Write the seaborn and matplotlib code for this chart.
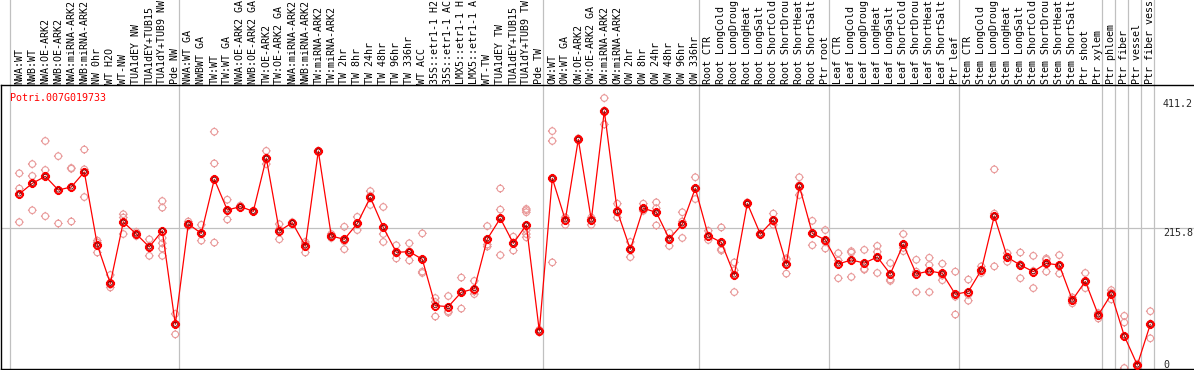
import numpy as np
import pandas as pd
import matplotlib
matplotlib.use("Agg")
import matplotlib.pyplot as plt
import matplotlib.transforms as mtransforms
from matplotlib.path import Path
import seaborn as sns

# sample names, one per column (as printed, truncated to 14 chars)
group_nw = ["NWA:WT", "NWB:WT", "NWA:OE-ARK2", "NWB:OE-ARK2", "NWA:miRNA-ARK2",
            "NWB:miRNA-ARK2", "NW 0hr", "WT H2O", "WT-NW", "TUA1dEY NW",
            "TUA1dEY+TUB15", "TUA1dY+TUB9 NW", "Pde NW"]
group_tw = ["NWA:WT GA", "NWBWT GA", "TW:WT", "TW:WT GA", "NWA:OE-ARK2 GA",
            "NWB:OE-ARK2 GA", "TW:OE-ARK2", "TW:OE-ARK2 GA", "NWA:miRNA-ARK2",
            "NWB:miRNA-ARK2", "TW:miRNA-ARK2", "TW:miRNA-ARK2", "TW 2hr", "TW 8hr",
            "TW 24hr", "TW 48hr", "TW 96hr", "TW 336hr", "WT ACC", "35S::etr1-1 H2",
            "35S::etr1-1 AC", "LMX5::etr1-1 H", "LMX5::etr1-1 A", "WT-TW",
            "TUA1dEY TW", "TUA1dEY+TUB15", "TUA1dY+TUB9 TW", "Pde TW"]
group_ow = ["OW:WT", "OW:WT GA", "OW:OE-ARK2", "OW:OE-ARK2 GA", "OW:miRNA-ARK2",
            "OW:miRNA-ARK2", "OW 2hr", "OW 8hr", "OW 24hr", "OW 48hr", "OW 96hr",
            "OW 336hr"]
group_root = ["Root CTR", "Root LongCold", "Root LongDroug", "Root LongHeat",
              "Root LongSalt", "Root ShortCold", "Root ShortDrou", "Root ShortHeat",
              "Root ShortSalt", "Ptr root"]
group_leaf = ["Leaf CTR", "Leaf LongCold", "Leaf LongDroug", "Leaf LongHeat",
              "Leaf LongSalt", "Leaf ShortCold", "Leaf ShortDrou", "Leaf ShortHeat",
              "Leaf ShortSalt", "Ptr leaf"]
group_stem = ["Stem CTR", "Stem LongCold", "Stem LongDroug", "Stem LongHeat",
              "Stem LongSalt", "Stem ShortCold", "Stem ShortDrou", "Stem ShortHeat",
              "Stem ShortSalt", "Ptr shoot", "Ptr xylem"]
group_ptr = ["Ptr phloem", "Ptr fiber", "Ptr vessel", "Ptr fiber vess"]

groups = [group_nw, group_tw, group_ow, group_root, group_leaf, group_stem,
          group_ptr[0:1], group_ptr[1:2], group_ptr[2:3], group_ptr[3:4]]
labels = [name for g in groups for name in g]

# mean expression per sample (line)
means = [266.7, 282.8, 293.4, 272.7, 277.3, 300.0, 189.4, 131.3, 224.2, 206.0,
         186.4, 211.0, 69.2,
         221.2, 207.0, 288.9, 242.4, 247.5, 240.4, 321.0, 210.6, 223.2, 187.9,
         331.8, 203.0, 198.0, 222.0, 261.6, 216.0, 178.3, 179.3, 167.7, 97.5,
         96.0, 117.7, 123.2, 198.5, 229.8, 191.9, 219.7, 59.0,
         290.4, 227.3, 349.5, 227.3, 392.4, 240.4, 182.8, 245.0, 238.9, 198.5,
         221.2, 275.3,
         203.5, 193.4, 143.9, 252.5, 206.0, 227.3, 160.6, 278.8, 207.0, 197.0,
         160.6, 166.7, 162.0, 171.2, 145.5, 190.4, 145.5, 150.0, 146.5, 114.7,
         118.7, 151.5, 233.3, 170.7, 159.0, 149.0, 161.6, 159.0, 106.0, 134.3,
         83.3,
         115.0, 51.5, 7.6, 69.2]

# individual replicates per sample
replicates = [
    [298, 275, 224], [312, 294, 242], [347, 303, 233], [324, 272, 222],
    [306, 305, 225], [334, 304, 262], [193, 196, 178], [144, 129, 125],
    [236, 231, 206], [209, 206, 203], [198, 188, 173],
    [256, 246, 200, 192, 184, 173], [85, 69, 54],
    [225, 221, 218], [220, 206, 196], [361, 313, 193], [258, 242, 228],
    [249, 246, 247], [241, 240, 240], [332, 319, 312], [221, 213, 198],
    [224, 223, 221], [194, 191, 178], [332, 331, 332], [206, 200, 203],
    [217, 195, 183], [232, 222, 212], [271, 264, 250], [247, 206, 194],
    [189, 177, 169], [192, 180, 166], [207, 149, 147], [109, 103, 81],
    [112, 89, 87], [140, 119, 93], [135, 119, 115], [218, 190, 187],
    [275, 243, 174], [202, 193, 181], [244, 242, 239, 212, 206, 201],
    [61, 59, 57],
    [362, 347, 163], [231, 231, 220], [351, 349, 348], [231, 228, 220],
    [412, 393, 372], [252, 239, 231], [194, 183, 171], [252, 242, 241],
    [254, 245, 219], [208, 199, 188], [239, 225, 200], [292, 275, 259],
    [211, 203, 197], [216, 181, 183], [163, 151, 118], [254, 252, 251],
    [207, 206, 205], [237, 225, 220], [169, 167, 146], [292, 280, 265],
    [226, 206, 189], [212, 194, 184],
    [177, 166, 139], [178, 180, 141], [182, 153, 152], [188, 179, 147],
    [162, 137, 135], [206, 185, 180], [167, 149, 118], [170, 159, 118],
    [161, 143, 136], [149, 111, 84],
    [137, 114, 105], [157, 151, 147], [304, 237, 157], [177, 171, 164],
    [178, 160, 139], [173, 150, 124], [169, 167, 149], [174, 157, 146],
    [110, 107, 101], [147, 133, 124], [86, 86, 78],
    [121, 117, 107], [82, 72, 3], [9, 6, 8], [89, 70, 48],
]

gene = "Potri.007G019733"
y_marks = [411.2, 215.8, 0]

# long-form table for seaborn
rep_df = pd.DataFrame(
    [(i, v) for i, reps in enumerate(replicates) for v in reps],
    columns=["pos", "value"])
mean_df = pd.DataFrame({"pos": np.arange(len(means)), "value": means})

# circle marker with four little ticks, like the original bitmap
tick_verts = [(0, 1), (0, 1.35), (0, -1), (0, -1.35),
              (1, 0), (1.35, 0), (-1, 0), (-1.35, 0)]
tick_codes = [Path.MOVETO, Path.LINETO] * 4
ring = Path.make_compound_path(Path.unit_circle(), Path(tick_verts, tick_codes))

sns.set_style("white")
plt.rcParams["font.family"] = ["DejaVu Sans Mono"]

fig = plt.figure(figsize=(11.94, 3.70), dpi=100)
ax = fig.add_axes([1 / 1194, 1 / 370, 1193 / 1194, 284 / 370])

grid_col = "#c0c0c0"
pink = "#e99a9a"
red = "#ff0000"

# group separators run all the way up through the label area
starts = np.cumsum([0] + [len(g) for g in groups])
for s in starts:
    ax.axvline(s - 0.715, ymin=0, ymax=1.31, color=grid_col, lw=0.9,
               clip_on=False, zorder=1)
ax.axhline(215.8, color=grid_col, lw=0.9, zorder=1)

sns.scatterplot(data=rep_df, x="pos", y="value", marker=ring, s=40,
                facecolor="none", edgecolor=pink, linewidth=0.8,
                ax=ax, zorder=2, legend=False)
sns.lineplot(data=mean_df, x="pos", y="value", color=red, lw=0.9,
             marker=ring, markersize=6.6, markerfacecolor="none",
             markeredgecolor=red, markeredgewidth=1.4, ax=ax, zorder=3)
# dark inner ring of the mean markers
sns.scatterplot(data=mean_df, x="pos", y="value", marker="o", s=9,
                facecolor="none", edgecolor="#700000", linewidth=0.6,
                ax=ax, zorder=4, legend=False)

ax.set_xlim(-1.408, 90.36)
ax.set_ylim(1.5, 431.8)
ax.set_xticks([])
ax.set_yticks([])
ax.set_xlabel("")
ax.set_ylabel("")
for side in ["left", "top", "bottom"]:
    ax.spines[side].set_color("black")
    ax.spines[side].set_linewidth(1.0)
ax.spines["right"].set_visible(False)

# rotated column labels above the frame
trans = mtransforms.blended_transform_factory(ax.transData, ax.transAxes)
for i, name in enumerate(labels):
    ax.text(i, 1.004, name, rotation=90, ha="center", va="bottom",
            fontsize=7.2, color="black", transform=trans, clip_on=False)

ax.text(0.0075, 0.972, gene, color=red, fontsize=7.2, ha="left", va="top",
        transform=ax.transAxes)

# value marks on the right
for v in y_marks:
    ax.text(0.974, v, f"{v:g}", fontsize=7.2, ha="left",
            va="bottom" if v == 0 else "top",
            transform=mtransforms.blended_transform_factory(ax.transAxes, ax.transData))

fig.savefig("out.png", dpi=100)
